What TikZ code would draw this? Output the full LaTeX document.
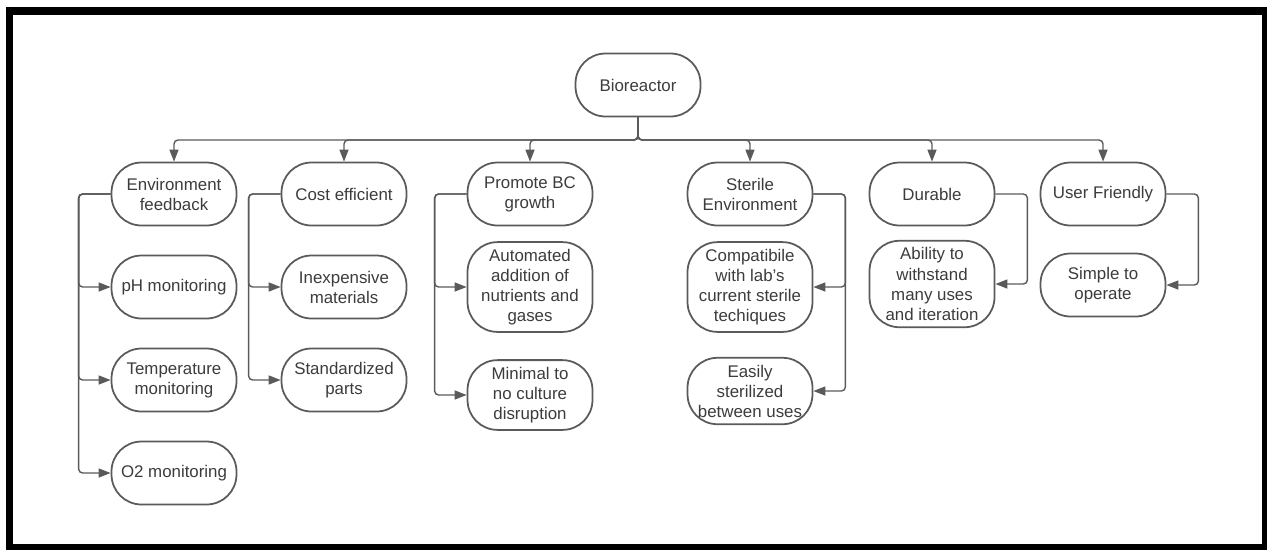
\documentclass[tikz,border=0pt]{standalone}
\usepackage{fontspec}
\setmainfont{Liberation Sans}
\usepackage{tikz}
\usetikzlibrary{arrows.meta,positioning,calc}
\usepackage{xcolor}
\definecolor{linegray}{RGB}{90,90,90}
\definecolor{textgray}{RGB}{60,60,60}

\tikzset{
  box/.style={draw=linegray, line width=1pt, rounded corners=0.6cm, fill=white,
    minimum width=2.5cm, minimum height=1.26cm, inner xsep=0.08cm, inner ysep=0.14cm,
    align=center, text=textgray, font=\fontsize{9.6}{11.4}\selectfont},
  conn/.style={draw=linegray, line width=0.8pt, rounded corners=0.08cm,
    -{Triangle[length=0.24cm,width=0.18cm]}},
}

\begin{document}
\begin{tikzpicture}[x=0.02cm,y=-0.02cm]
        \def\br{32}
        \useasboundingbox (0,0) rectangle (1267,549);
        \draw[line width=0.16cm] (9.5,11) rectangle (1266,548);
        \node[box] (bio) at (638,85) {Bioreactor};
        \coordinate (bus) at (638,140);
        \node[box] (env)  at (174,194)  {Environment\\feedback};
        \node[box] (cost) at (344,194)  {Cost efficient};
        \node[box] (prom) at (530,194)  {Promote BC\\growth};
        \node[box] (ster) at (750,194)  {Sterile\\Environment};
        \node[box] (dur)  at (932,194)  {Durable};
        \node[box] (user) at (1103,194) {User Friendly};
        \node[box] (ph)    at (174,287) {pH monitoring};
        \node[box] (temp)  at (174,380) {Temperature\\monitoring};
        \node[box] (otwo)  at (174,473) {O2 monitoring};
        \node[box] (inexp) at (344,287) {Inexpensive\\materials};
        \node[box] (std)   at (344,380) {Standardized\\parts};
        \node[box] (auto)  at (530,287) {Automated\\addition of\\nutrients and\\gases};
        \node[box] (mini)  at (530,395) {Minimal to\\no culture\\disruption};
        \node[box] (comp)  at (750,287) {Compatibile\\with lab's\\current sterile\\techiques};
        \node[box] (easy)  at (750,391) {Easily\\sterilized\\between uses};
        \node[box] (abil)  at (932,284) {Ability to\\withstand\\many uses\\and iteration};
        \node[box] (simp)  at (1103,285) {Simple to\\operate};
        \foreach \n in {env,cost,prom,ster,dur,user}
          \draw[conn] (bio.south) -- (bus) -| (\n.north);
        \foreach \p/\c in {env/ph,env/temp,env/otwo,cost/inexp,cost/std,prom/auto,prom/mini}
          \draw[conn] (\p.west) -- ++(-\br,0) |- (\c.west);
        \foreach \p/\c in {ster/comp,ster/easy,dur/abil,user/simp}
          \draw[conn] (\p.east) -- ++(\br,0) |- (\c.east);
      \end{tikzpicture}
\end{document}
